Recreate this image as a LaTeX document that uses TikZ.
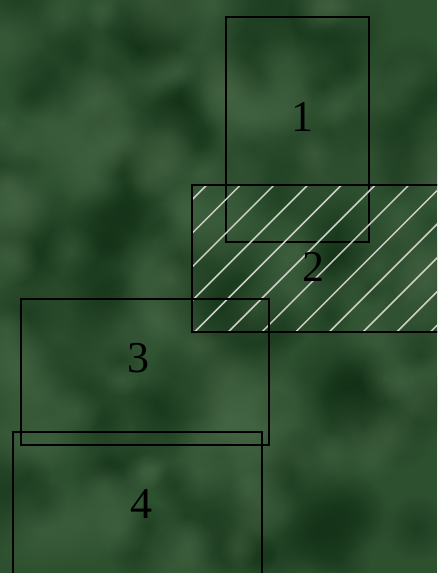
\documentclass[tikz,border=0pt]{standalone}
\usepackage{fontspec}
\setmainfont{Liberation Serif}
\usetikzlibrary{fadings}
\definecolor{bggreen}{RGB}{45,80,47}
\definecolor{darkblob}{RGB}{18,48,22}
\definecolor{lightblob}{RGB}{78,110,76}
\definecolor{hatchcol}{RGB}{205,208,200}
\tikzfading[name=blobfade, inner color=transparent!0, outer color=transparent!100]
\tikzset{
  box/.style={draw=black, line width=1.9pt, fill=none},
  lab/.style={font=\fontsize{44}{44}\selectfont, text=black, inner sep=0pt},
  hatchline/.style={draw=hatchcol, line width=1.5pt}
}
\begin{document}
\begin{tikzpicture}[x=1pt,y=-1pt]
\useasboundingbox (0,0) rectangle (437,573);
\clip (0,0) rectangle (437,573);
% background texture
\fill[bggreen] (0,0) rectangle (437,573);
\pgfmathsetseed{12}
\foreach \i in {1,...,140}{
  \pgfmathsetmacro{\bx}{random(0,437)}
  \pgfmathsetmacro{\by}{random(0,573)}
  \pgfmathsetmacro{\br}{random(18,55)}
  \fill[darkblob, path fading=blobfade, opacity=0.55] (\bx,\by) circle (\br);
}
\foreach \i in {1,...,120}{
  \pgfmathsetmacro{\bx}{random(0,437)}
  \pgfmathsetmacro{\by}{random(0,573)}
  \pgfmathsetmacro{\br}{random(18,50)}
  \fill[lightblob, path fading=blobfade, opacity=0.4] (\bx,\by) circle (\br);
}
% rectangle 1
\coordinate (r1a) at (225.7,17.3);
\coordinate (r1b) at (369,241.7);
\draw[box] (r1a) rectangle (r1b);
\node[lab] (l1) at (302,117) {1};
% rectangle 2 (hatched)
\coordinate (r2a) at (191.7,185);
\coordinate (r2b) at (445,332.3);
\begin{scope}
  \clip (r2a) rectangle (r2b);
  \foreach \k in {0,...,16}{
    \pgfmathsetmacro{\c}{391.7+33.7*\k}
    \draw[hatchline] (\c-400,400) -- (\c,0);
  }
\end{scope}
\draw[box] (r2a) rectangle (r2b);
\node[lab] (l2) at (313,267) {2};
% rectangle 3
\coordinate (r3a) at (20.7,299);
\coordinate (r3b) at (269.3,445);
\draw[box] (r3a) rectangle (r3b);
\node[lab] (l3) at (138,358) {3};
% rectangle 4
\coordinate (r4a) at (12.7,431.7);
\coordinate (r4b) at (261.7,590);
\draw[box] (r4a) rectangle (r4b);
\node[lab] (l4) at (141,504) {4};
\end{tikzpicture}
\end{document}
